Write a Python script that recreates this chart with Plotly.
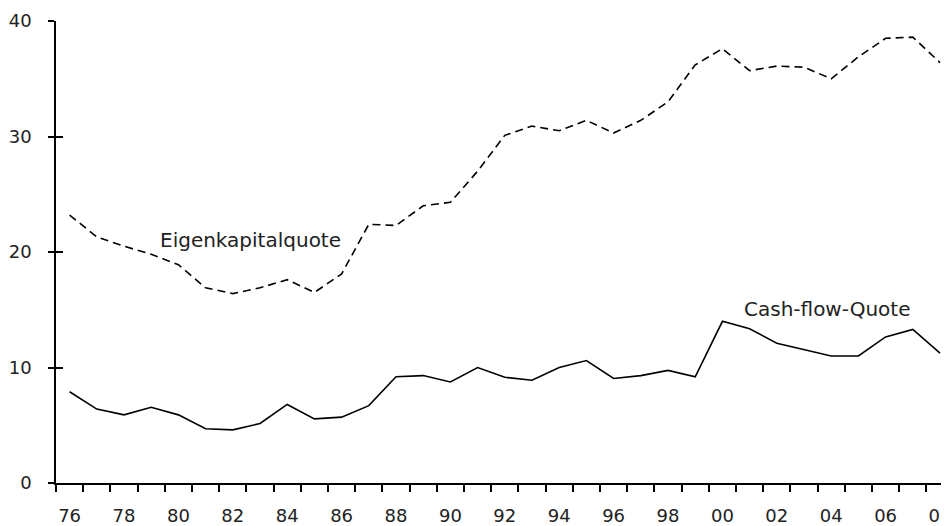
import plotly.graph_objects as go

# Jahre 1976-2008
years = list(range(1976, 2009))

# Eigenkapitalquote (gestrichelt), in %
eigenkapital = [23.2, 21.3, 20.5, 19.8, 18.9, 16.9, 16.4, 16.9, 17.6, 16.5, 18.1,
                22.4, 22.3, 24.0, 24.3, 27.0, 30.1, 30.9, 30.5, 31.4, 30.3, 31.4,
                33.0, 36.2, 37.6, 35.7, 36.1, 36.0, 35.0, 36.9, 38.5, 38.6, 36.4]

# Cash-flow-Quote (durchgezogen), in %
cashflow = [7.9, 6.4, 5.9, 6.55, 5.9, 4.7, 4.6, 5.15, 6.8, 5.55, 5.7,
            6.7, 9.2, 9.3, 8.75, 10.0, 9.15, 8.9, 10.0, 10.6, 9.05, 9.3,
            9.75, 9.2, 14.0, 13.35, 12.1, 11.55, 11.0, 11.0, 12.65, 13.3, 11.25]

label_years = years[::2]
label_text = [str(y)[2:] for y in label_years]
y_ticks = [0, 10, 20, 30, 40]

font = "DejaVu Sans"

fig = go.Figure()
fig.add_trace(go.Scatter(x=years, y=eigenkapital, mode="lines",
                         line=dict(color="black", width=1.6, dash="8px,5px")))
fig.add_trace(go.Scatter(x=years, y=cashflow, mode="lines",
                         line=dict(color="black", width=1.6)))
# unsichtbare Spur, damit die zweite y-Achse (Innenticks) gezeichnet wird
fig.add_trace(go.Scatter(x=years[:1], y=[0], yaxis="y2", mode="lines",
                         line=dict(width=0), hoverinfo="skip"))

fig.add_annotation(x=1982.65, y=21.0, text="Eigenkapitalquote", showarrow=False,
                   font=dict(size=20, color="#222"))
fig.add_annotation(x=2003.85, y=15.1, text="Cash-flow-Quote", showarrow=False,
                   font=dict(size=20, color="#222"))

# die Seite hat 8px Rand, daher etwas kleiner
fig.update_layout(
    width=941, height=518,
    margin=dict(l=48, r=0, t=13, b=43),
    paper_bgcolor="white", plot_bgcolor="white",
    showlegend=False,
    font=dict(family=font, size=18, color="#222"),
    xaxis=dict(
        range=[1975.5, 2008.33], automargin=False,
        tickmode="array", tickvals=label_years, ticktext=label_text,
        ticks="", showgrid=False, zeroline=False,
        showline=True, linecolor="black", linewidth=1.5,
        ticklabelstandoff=16, ticklabeloverflow="allow",
        minor=dict(tickmode="array", tickvals=[y - 0.5 for y in years] + [2008.5],
                   ticks="outside", ticklen=7, tickcolor="black", tickwidth=1.5,
                   showgrid=False),
    ),
    yaxis=dict(
        range=[0, 40], automargin=False, tickmode="array", tickvals=y_ticks,
        ticks="outside", ticklen=6, tickcolor="black", tickwidth=1.5,
        showgrid=False, zeroline=False,
        showline=True, linecolor="black", linewidth=1.5,
        ticklabelstandoff=13,
    ),
    yaxis2=dict(
        range=[0, 40], overlaying="y", side="left", tickmode="array",
        automargin=False,
        tickvals=y_ticks, ticks="inside", ticklen=7, tickcolor="black",
        tickwidth=1.5, showticklabels=False, showgrid=False, zeroline=False,
        showline=False,
    ),
)

fig.write_html("out.html")
